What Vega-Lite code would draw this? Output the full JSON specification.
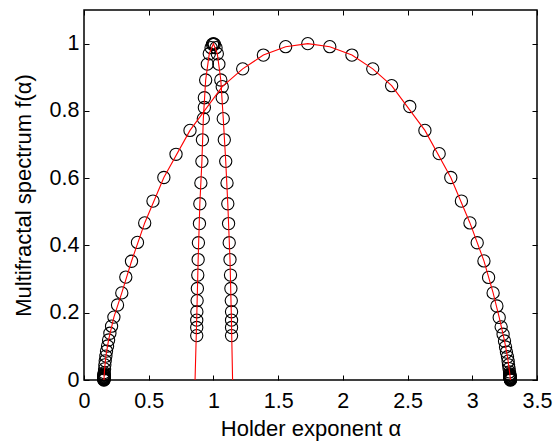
{
  "$schema": "https://vega.github.io/schema/vega-lite/v6.json",
  "width": 453,
  "height": 370,
  "autosize": {"type": "none"},
  "padding": {"left": 84, "top": 10, "right": 16, "bottom": 61},
  "background": "white",
  "config": {
    "view": {"stroke": "black", "strokeWidth": 1.5},
    "axis": {
      "domain": false,
      "grid": false,
      "tickColor": "black",
      "tickSize": -5,
      "tickWidth": 1,
      "labelFont": "Liberation Sans",
      "labelFontSize": 21.5,
      "labelColor": "black",
      "titleFont": "Liberation Sans",
      "titleFontSize": 22,
      "titleFontWeight": "normal",
      "titleColor": "black"
    }
  },
  "datasets": {
    "circles": [
      {"s": "wide", "a": 0.154, "f": 0.0},
      {"s": "wide", "a": 0.154, "f": 0.001},
      {"s": "wide", "a": 0.154, "f": 0.002},
      {"s": "wide", "a": 0.154, "f": 0.003},
      {"s": "wide", "a": 0.154, "f": 0.004},
      {"s": "wide", "a": 0.154, "f": 0.005},
      {"s": "wide", "a": 0.154, "f": 0.006},
      {"s": "wide", "a": 0.154, "f": 0.007},
      {"s": "wide", "a": 0.154, "f": 0.008},
      {"s": "wide", "a": 0.154, "f": 0.010},
      {"s": "wide", "a": 0.155, "f": 0.012},
      {"s": "wide", "a": 0.155, "f": 0.014},
      {"s": "wide", "a": 0.155, "f": 0.016},
      {"s": "wide", "a": 0.155, "f": 0.018},
      {"s": "wide", "a": 0.156, "f": 0.022},
      {"s": "wide", "a": 0.159, "f": 0.033},
      {"s": "wide", "a": 0.161, "f": 0.045},
      {"s": "wide", "a": 0.164, "f": 0.057},
      {"s": "wide", "a": 0.169, "f": 0.071},
      {"s": "wide", "a": 0.174, "f": 0.086},
      {"s": "wide", "a": 0.182, "f": 0.101},
      {"s": "wide", "a": 0.190, "f": 0.119},
      {"s": "wide", "a": 0.200, "f": 0.139},
      {"s": "wide", "a": 0.213, "f": 0.160},
      {"s": "wide", "a": 0.231, "f": 0.187},
      {"s": "wide", "a": 0.259, "f": 0.223},
      {"s": "wide", "a": 0.292, "f": 0.259},
      {"s": "wide", "a": 0.323, "f": 0.306},
      {"s": "wide", "a": 0.367, "f": 0.353},
      {"s": "wide", "a": 0.413, "f": 0.409},
      {"s": "wide", "a": 0.469, "f": 0.467},
      {"s": "wide", "a": 0.533, "f": 0.532},
      {"s": "wide", "a": 0.617, "f": 0.602},
      {"s": "wide", "a": 0.711, "f": 0.671},
      {"s": "wide", "a": 0.819, "f": 0.742},
      {"s": "wide", "a": 0.930, "f": 0.810},
      {"s": "wide", "a": 1.068, "f": 0.872},
      {"s": "wide", "a": 1.226, "f": 0.925},
      {"s": "wide", "a": 1.386, "f": 0.966},
      {"s": "wide", "a": 1.558, "f": 0.991},
      {"s": "wide", "a": 1.729, "f": 1.0},
      {"s": "wide", "a": 1.899, "f": 0.991},
      {"s": "wide", "a": 2.070, "f": 0.966},
      {"s": "wide", "a": 2.231, "f": 0.925},
      {"s": "wide", "a": 2.377, "f": 0.875},
      {"s": "wide", "a": 2.517, "f": 0.813},
      {"s": "wide", "a": 2.634, "f": 0.742},
      {"s": "wide", "a": 2.744, "f": 0.673},
      {"s": "wide", "a": 2.834, "f": 0.602},
      {"s": "wide", "a": 2.916, "f": 0.532},
      {"s": "wide", "a": 2.982, "f": 0.467},
      {"s": "wide", "a": 3.038, "f": 0.408},
      {"s": "wide", "a": 3.090, "f": 0.354},
      {"s": "wide", "a": 3.126, "f": 0.305},
      {"s": "wide", "a": 3.161, "f": 0.259},
      {"s": "wide", "a": 3.190, "f": 0.220},
      {"s": "wide", "a": 3.208, "f": 0.186},
      {"s": "wide", "a": 3.223, "f": 0.158},
      {"s": "wide", "a": 3.238, "f": 0.136},
      {"s": "wide", "a": 3.249, "f": 0.116},
      {"s": "wide", "a": 3.257, "f": 0.098},
      {"s": "wide", "a": 3.264, "f": 0.083},
      {"s": "wide", "a": 3.272, "f": 0.069},
      {"s": "wide", "a": 3.277, "f": 0.056},
      {"s": "wide", "a": 3.280, "f": 0.045},
      {"s": "wide", "a": 3.284, "f": 0.034},
      {"s": "wide", "a": 3.288, "f": 0.024},
      {"s": "wide", "a": 3.289, "f": 0.018},
      {"s": "wide", "a": 3.290, "f": 0.016},
      {"s": "wide", "a": 3.290, "f": 0.014},
      {"s": "wide", "a": 3.291, "f": 0.012},
      {"s": "wide", "a": 3.291, "f": 0.010},
      {"s": "wide", "a": 3.292, "f": 0.008},
      {"s": "wide", "a": 3.292, "f": 0.007},
      {"s": "wide", "a": 3.292, "f": 0.006},
      {"s": "wide", "a": 3.293, "f": 0.005},
      {"s": "wide", "a": 3.293, "f": 0.004},
      {"s": "wide", "a": 3.294, "f": 0.003},
      {"s": "wide", "a": 3.294, "f": 0.002},
      {"s": "wide", "a": 3.295, "f": 0.001},
      {"s": "wide", "a": 3.295, "f": 0.0},
      {"s": "narrow", "a": 0.871, "f": 0.132},
      {"s": "narrow", "a": 0.871, "f": 0.156},
      {"s": "narrow", "a": 0.871, "f": 0.178},
      {"s": "narrow", "a": 0.872, "f": 0.203},
      {"s": "narrow", "a": 0.874, "f": 0.236},
      {"s": "narrow", "a": 0.876, "f": 0.272},
      {"s": "narrow", "a": 0.879, "f": 0.312},
      {"s": "narrow", "a": 0.882, "f": 0.358},
      {"s": "narrow", "a": 0.884, "f": 0.408},
      {"s": "narrow", "a": 0.892, "f": 0.465},
      {"s": "narrow", "a": 0.895, "f": 0.524},
      {"s": "narrow", "a": 0.903, "f": 0.586},
      {"s": "narrow", "a": 0.911, "f": 0.650},
      {"s": "narrow", "a": 0.915, "f": 0.714},
      {"s": "narrow", "a": 0.922, "f": 0.777},
      {"s": "narrow", "a": 0.930, "f": 0.839},
      {"s": "narrow", "a": 0.940, "f": 0.892},
      {"s": "narrow", "a": 0.953, "f": 0.939},
      {"s": "narrow", "a": 0.968, "f": 0.970},
      {"s": "narrow", "a": 0.982, "f": 0.988},
      {"s": "narrow", "a": 0.993, "f": 0.998},
      {"s": "narrow", "a": 1.000, "f": 1.0},
      {"s": "narrow", "a": 1.007, "f": 0.998},
      {"s": "narrow", "a": 1.020, "f": 0.988},
      {"s": "narrow", "a": 1.030, "f": 0.970},
      {"s": "narrow", "a": 1.042, "f": 0.939},
      {"s": "narrow", "a": 1.057, "f": 0.892},
      {"s": "narrow", "a": 1.068, "f": 0.839},
      {"s": "narrow", "a": 1.076, "f": 0.777},
      {"s": "narrow", "a": 1.084, "f": 0.714},
      {"s": "narrow", "a": 1.095, "f": 0.650},
      {"s": "narrow", "a": 1.105, "f": 0.586},
      {"s": "narrow", "a": 1.111, "f": 0.524},
      {"s": "narrow", "a": 1.117, "f": 0.465},
      {"s": "narrow", "a": 1.122, "f": 0.408},
      {"s": "narrow", "a": 1.128, "f": 0.358},
      {"s": "narrow", "a": 1.132, "f": 0.312},
      {"s": "narrow", "a": 1.135, "f": 0.272},
      {"s": "narrow", "a": 1.138, "f": 0.236},
      {"s": "narrow", "a": 1.140, "f": 0.203},
      {"s": "narrow", "a": 1.140, "f": 0.178},
      {"s": "narrow", "a": 1.140, "f": 0.156},
      {"s": "narrow", "a": 1.140, "f": 0.132}
    ],
    "fit": [
      {"s": "wide", "a": 0.154, "f": 0.0},
      {"s": "wide", "a": 0.159, "f": 0.033},
      {"s": "wide", "a": 0.169, "f": 0.071},
      {"s": "wide", "a": 0.190, "f": 0.119},
      {"s": "wide", "a": 0.231, "f": 0.187},
      {"s": "wide", "a": 0.292, "f": 0.259},
      {"s": "wide", "a": 0.367, "f": 0.353},
      {"s": "wide", "a": 0.469, "f": 0.467},
      {"s": "wide", "a": 0.617, "f": 0.602},
      {"s": "wide", "a": 0.819, "f": 0.742},
      {"s": "wide", "a": 1.068, "f": 0.872},
      {"s": "wide", "a": 1.226, "f": 0.925},
      {"s": "wide", "a": 1.386, "f": 0.966},
      {"s": "wide", "a": 1.558, "f": 0.991},
      {"s": "wide", "a": 1.729, "f": 1.0},
      {"s": "wide", "a": 1.899, "f": 0.991},
      {"s": "wide", "a": 2.070, "f": 0.966},
      {"s": "wide", "a": 2.231, "f": 0.925},
      {"s": "wide", "a": 2.377, "f": 0.875},
      {"s": "wide", "a": 2.634, "f": 0.742},
      {"s": "wide", "a": 2.834, "f": 0.602},
      {"s": "wide", "a": 2.982, "f": 0.467},
      {"s": "wide", "a": 3.090, "f": 0.354},
      {"s": "wide", "a": 3.161, "f": 0.259},
      {"s": "wide", "a": 3.208, "f": 0.186},
      {"s": "wide", "a": 3.249, "f": 0.116},
      {"s": "wide", "a": 3.272, "f": 0.069},
      {"s": "wide", "a": 3.288, "f": 0.024},
      {"s": "wide", "a": 3.295, "f": 0.0},
      {"s": "narrow", "a": 0.858, "f": 0.0},
      {"s": "narrow", "a": 0.872, "f": 0.2},
      {"s": "narrow", "a": 0.882, "f": 0.358},
      {"s": "narrow", "a": 0.895, "f": 0.524},
      {"s": "narrow", "a": 0.911, "f": 0.650},
      {"s": "narrow", "a": 0.922, "f": 0.777},
      {"s": "narrow", "a": 0.940, "f": 0.892},
      {"s": "narrow", "a": 0.968, "f": 0.970},
      {"s": "narrow", "a": 1.000, "f": 1.0},
      {"s": "narrow", "a": 1.030, "f": 0.970},
      {"s": "narrow", "a": 1.057, "f": 0.892},
      {"s": "narrow", "a": 1.076, "f": 0.777},
      {"s": "narrow", "a": 1.095, "f": 0.650},
      {"s": "narrow", "a": 1.111, "f": 0.524},
      {"s": "narrow", "a": 1.128, "f": 0.358},
      {"s": "narrow", "a": 1.138, "f": 0.2},
      {"s": "narrow", "a": 1.148, "f": 0.0}
    ]
  },
  "layer": [
    {
      "data": {"name": "circles"},
      "mark": {"type": "point", "shape": "circle", "filled": false, "stroke": "black", "strokeWidth": 1.1, "size": 150, "opacity": 1},
      "encoding": {
        "x": {"field": "a", "type": "quantitative", "scale": {"domain": [0, 3.5], "nice": false, "zero": false},
              "axis": {"orient": "bottom", "title": "Holder exponent α", "values": [0, 0.5, 1, 1.5, 2, 2.5, 3, 3.5], "format": "~g", "labelPadding": 15, "titlePadding": 7, "labelFlush": false}},
        "y": {"field": "f", "type": "quantitative", "scale": {"domain": [0, 1.1], "nice": false, "zero": false},
              "axis": {"orient": "left", "title": "Multifractal spectrum f(α)", "values": [0, 0.2, 0.4, 0.6, 0.8, 1], "format": "~g", "labelPadding": 10, "titlePadding": 14, "labelFlush": false}}
      }
    },
    {
      "data": {"name": "fit"},
      "mark": {"type": "line", "color": "#ff0000", "strokeWidth": 1.1, "clip": true},
      "encoding": {
        "x": {"field": "a", "type": "quantitative", "scale": {"domain": [0, 3.5], "nice": false, "zero": false},
              "axis": {"orient": "top", "title": null, "labels": false, "values": [0, 0.5, 1, 1.5, 2, 2.5, 3, 3.5]}},
        "y": {"field": "f", "type": "quantitative", "scale": {"domain": [0, 1.1], "nice": false, "zero": false},
              "axis": {"orient": "right", "title": null, "labels": false, "values": [0, 0.2, 0.4, 0.6, 0.8, 1]}},
        "detail": {"field": "s"}
      }
    }
  ],
  "resolve": {"axis": {"x": "independent", "y": "independent"}}
}
